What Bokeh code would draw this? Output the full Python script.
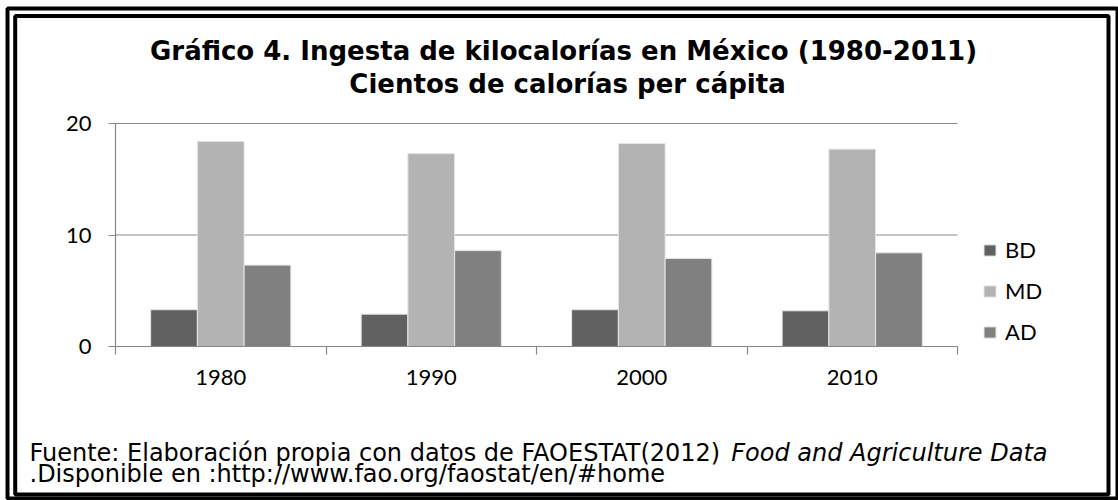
from bokeh.plotting import figure
from bokeh.models import (ColumnDataSource, Range1d, FixedTicker, Legend, LegendItem,
                          Label, BoxAnnotation, LinearAxis)
from bokeh.transform import dodge
from bokeh.embed import file_html
from bokeh.resources import INLINE

# ---- data ----
years = ["1980", "1990", "2000", "2010"]
bd = [3.3, 2.9, 3.3, 3.2]
md = [18.4, 17.3, 18.2, 17.7]
ad = [7.3, 8.6, 7.9, 8.4]
series_names = ["BD", "MD", "AD"]
y_ticks = [0, 10, 20]

title1 = "Gráfico 4. Ingesta de kilocalorías en México (1980-2011)"
title2 = "Cientos de calorías per cápita"
foot1 = "Fuente: Elaboración propia con datos de FAOESTAT(2012) "
foot1_it = "Food and Agriculture Data"
foot2 = ".Disponible en :http://www.fao.org/faostat/en/#home"

colors = ["#616161", "#b3b3b3", "#808080"]
AXIS_C = "#868686"
TICK_FONT = "Lato"
TEXT_FONT = "DejaVu Sans"

# ---- layout (pixels) ----
W, H = 1118, 500
FL, FR, FT, FB = 115, 957, 123, 346     # plot area in canvas pixels
n = len(years)
ymax = y_ticks[-1]
pxx = (FR - FL) / n
pxy = (FB - FT) / ymax
x_rng = Range1d(-FL / pxx, n + (W - FR) / pxx)
y_rng = Range1d(-(H - FB) / pxy, ymax + FT / pxy)

xs = [i + 0.5 for i in range(n)]
source = ColumnDataSource(dict(x=xs, BD=bd, MD=md, AD=ad))

p = figure(width=W, height=H, output_backend="svg", toolbar_location=None, title=None,
           x_range=x_rng, y_range=y_rng, min_border=0,
           min_border_left=0, min_border_right=0, min_border_top=0, min_border_bottom=0,
           x_axis_type=None, y_axis_type=None)
p.outline_line_color = None
p.background_fill_color = "white"
p.border_fill_color = "white"
p.xgrid.visible = False
p.ygrid.visible = False

# horizontal gridlines across the plot area only
grid_y = [t for t in y_ticks if t > 0]
p.segment(x0=[0] * len(grid_y), x1=[n] * len(grid_y), y0=grid_y, y1=grid_y,
          line_color="#8a8a8a", line_width=1.2)

# x axis: labels at category centres, tick marks at boundaries
xt = FixedTicker(ticks=xs, minor_ticks=list(range(n + 1)))
xaxis = LinearAxis(ticker=xt, fixed_location=0, bounds=(0, n),
                   major_label_overrides={x: y for x, y in zip(xs, years)})
xaxis.major_tick_line_color = None
xaxis.major_tick_out = 0
xaxis.major_tick_in = 0
xaxis.minor_tick_line_color = AXIS_C
xaxis.minor_tick_out = 8
xaxis.minor_tick_in = 0
xaxis.axis_line_color = AXIS_C
xaxis.axis_line_width = 1.2
xaxis.minor_tick_line_width = 1.2
xaxis.major_label_standoff = 15
xaxis.major_label_text_font = TICK_FONT
xaxis.major_label_text_font_size = "22px"
xaxis.major_label_text_color = "black"
p.add_layout(xaxis, "below")

yt = FixedTicker(ticks=y_ticks, minor_ticks=[])
yaxis = LinearAxis(ticker=yt, fixed_location=0, bounds=(0, ymax))
yaxis.axis_line_color = AXIS_C
yaxis.axis_line_width = 1.2
yaxis.major_tick_line_color = AXIS_C
yaxis.major_tick_line_width = 1.2
yaxis.major_tick_out = 7
yaxis.major_tick_in = 0
yaxis.minor_tick_line_color = None
yaxis.major_label_standoff = 17
yaxis.major_label_text_font = TICK_FONT
yaxis.major_label_text_font_size = "22px"
yaxis.major_label_text_color = "black"
p.add_layout(yaxis, "left")

bw = 0.222
offsets = [-bw, 0, bw]
renderers = []
for name, c, off in zip(series_names, colors, offsets):
    r = p.vbar(x=dodge("x", off, range=p.x_range), top=name, width=bw, source=source,
               fill_color=c, line_color="#e6e6e6", line_width=1)
    renderers.append(r)

legend = Legend(items=[LegendItem(label=nm, renderers=[r]) for nm, r in zip(series_names, renderers)],
                location=(982, H - 345), orientation="vertical",
                glyph_width=15, glyph_height=14, label_standoff=8,
                label_height=20, spacing=14, padding=0, margin=0,
                border_line_color=None, background_fill_alpha=0,
                label_text_font=TICK_FONT, label_text_font_size="22px",
                label_text_color="black")
p.add_layout(legend, "center")

def lab(x, y, text, style="normal", size="24px", align="left"):
    p.add_layout(Label(x=x, y=H - y, x_units="screen", y_units="screen", text=text,
                       text_font=TEXT_FONT, text_font_size=size,
                       text_font_style=style, text_align=align,
                       text_baseline="alphabetic", text_color="black"))

lab(563, 50, title1, "bold", "26px", "center")
lab(567, 83, title2, "bold", "26px", "center")
lab(29, 452, foot1)
lab(1047, 452, foot1_it, "italic", align="right")
lab(29, 473, foot2)

# double border
for (l, r, t, b) in [(7, 1117, 8, 498), (14.7, 1108, 15.5, 494)]:
    p.add_layout(BoxAnnotation(left=l, right=r, top=H - t, bottom=H - b,
                               left_units="screen", right_units="screen",
                               top_units="screen", bottom_units="screen",
                               fill_alpha=0, fill_color=None, line_color="black",
                               line_width=4, line_alpha=1))

open("out.html", "w").write(file_html(p, INLINE))
